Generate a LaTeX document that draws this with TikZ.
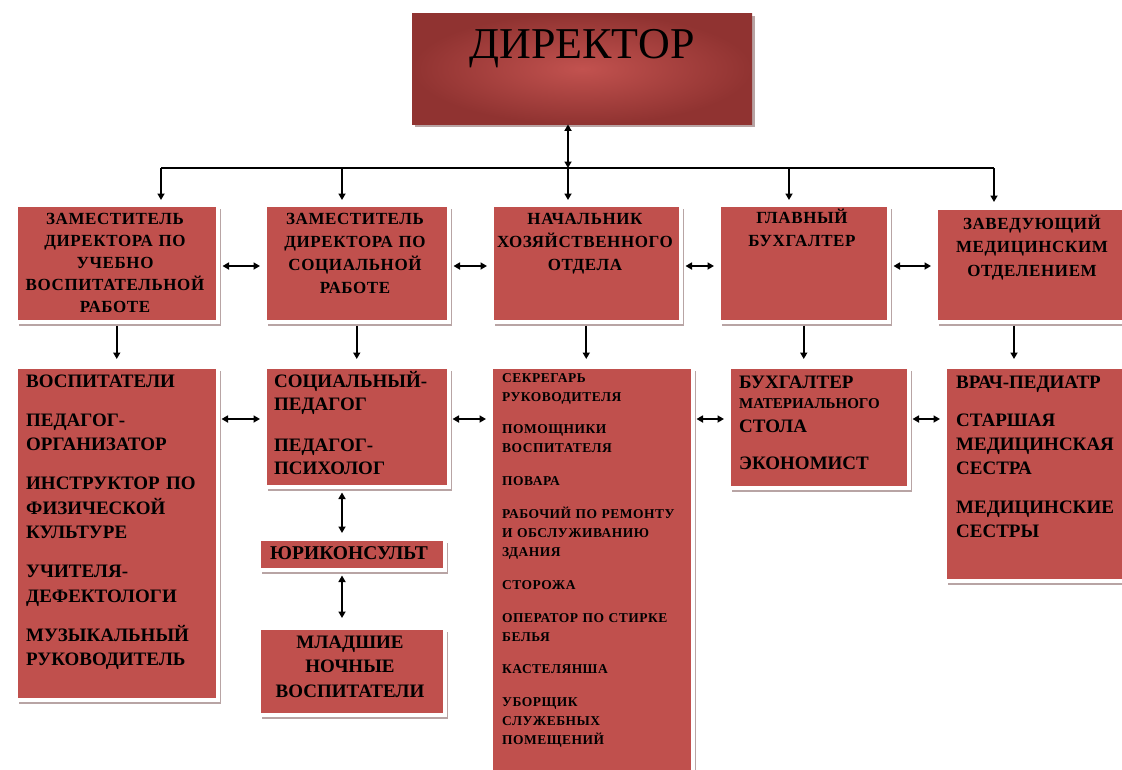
\documentclass[tikz,border=0pt]{standalone}
\usepackage{fontspec}
\setmainfont{Liberation Serif}
\newfontfamily\ttlfont{Liberation Serif}[LetterSpace=3.5]
\newfontfamily\smfont{Liberation Serif}[LetterSpace=3.5]
\usetikzlibrary{arrows.meta,shadows}
\definecolor{boxred}{HTML}{C0504D}
\definecolor{dirdark}{HTML}{903331}
\definecolor{dirlight}{HTML}{C2524F}
\definecolor{shadowc}{HTML}{B8A4A4}
\begin{document}
\begin{tikzpicture}[x=1pt,y=-1pt,
  box/.style={fill=boxred, draw=white, line width=3.5pt, inner sep=0pt, anchor=north west,
     drop shadow={shadow xshift=3pt, shadow yshift=-4pt, fill=shadowc, opacity=1}},
  conn/.style={line width=2pt, draw=black},
  arr/.style={conn, -{Triangle[length=6.5pt,width=7pt]}},
  darr/.style={conn, {Triangle[length=6.5pt,width=7pt]}-{Triangle[length=6.5pt,width=7pt]}},
  ttl/.style={text width=200pt, align=center, anchor=base, inner sep=0pt},
  big/.style={font=\bfseries\fontsize{19}{24.5}\selectfont, text width=185pt, align=left, anchor=base west, inner sep=0pt},
  small/.style={font=\smfont\bfseries\fontsize{13.5}{19}\selectfont, text width=189pt, align=left, anchor=base west, inner sep=0pt},
]
\useasboundingbox (0,0) rectangle (1122,769);

% director
\node[shading=radial, inner color=dirlight, outer color=dirdark, minimum width=340pt, minimum height=111pt,
      anchor=north west, inner sep=0pt,
      drop shadow={shadow xshift=3pt, shadow yshift=-3pt, fill=shadowc, opacity=1}] (dir) at (412,13) {};
\node[font=\fontsize{44}{44}\selectfont, anchor=base, inner sep=0pt] (dirt) at (582,58) {ДИРЕКТОР};

% top row boxes
\node[box, minimum width=202pt, minimum height=117pt] (b1) at (14,203) {};
\node[box, minimum width=184pt, minimum height=117pt] (b2) at (263,203) {};
\node[box, minimum width=189pt, minimum height=117pt] (b3) at (490,203) {};
\node[box, minimum width=170pt, minimum height=117pt] (b4) at (717,203) {};
\node[box, minimum width=196pt, minimum height=114pt] (b5) at (934,206) {};

\node[ttl, font=\ttlfont\bfseries\fontsize{17}{22}\selectfont] (t1) at (115,224) {ЗАМЕСТИТЕЛЬ\\ДИРЕКТОРА ПО\\УЧЕБНО\\ВОСПИТАТЕЛЬНОЙ\\РАБОТЕ};
\node[ttl, font=\ttlfont\bfseries\fontsize{17}{23}\selectfont] (t2) at (355,224) {ЗАМЕСТИТЕЛЬ\\ДИРЕКТОРА ПО\\СОЦИАЛЬНОЙ\\РАБОТЕ};
\node[ttl, font=\ttlfont\bfseries\fontsize{17}{23}\selectfont] (t3) at (585,224) {НАЧАЛЬНИК\\ХОЗЯЙСТВЕННОГО\\ОТДЕЛА};
\node[ttl, font=\ttlfont\bfseries\fontsize{17}{23}\selectfont] (t4) at (802,223) {ГЛАВНЫЙ\\БУХГАЛТЕР};
\node[ttl, font=\ttlfont\bfseries\fontsize{17}{23.5}\selectfont] (t5) at (1032,229) {ЗАВЕДУЮЩИЙ\\МЕДИЦИНСКИМ\\ОТДЕЛЕНИЕМ};

% bottom boxes
\node[box, minimum width=202pt, minimum height=333pt] (c1) at (14,365) {};
\node[box, minimum width=184pt, minimum height=120pt] (c2) at (263,365) {};
\node[box, minimum width=186pt, minimum height=31pt] (jur) at (257,537) {};
\node[box, minimum width=186pt, minimum height=87pt] (ml) at (257,626) {};
\node[box, minimum width=202pt, minimum height=415pt] (c3) at (489,365) {};
\node[box, minimum width=180pt, minimum height=121pt] (c4) at (727,365) {};
\node[box, minimum width=190pt, minimum height=214pt] (c5) at (943,365) {};

\node[big] (s1) at (26,387) {ВОСПИТАТЕЛИ\\[14.5pt]ПЕДАГОГ-\\ОРГАНИЗАТОР\\[14.5pt]ИНСТРУКТОР ПО\\ФИЗИЧЕСКОЙ\\КУЛЬТУРЕ\\[14.5pt]УЧИТЕЛЯ-\\ДЕФЕКТОЛОГИ\\[14.5pt]МУЗЫКАЛЬНЫЙ\\РУКОВОДИТЕЛЬ};
\node[big, font=\bfseries\fontsize{19}{23}\selectfont] (s2) at (274,387) {СОЦИАЛЬНЫЙ-\\ПЕДАГОГ\\[18pt]ПЕДАГОГ-\\ПСИХОЛОГ};
\node[font=\bfseries\fontsize{19.5}{22}\selectfont, anchor=base, inner sep=0pt] (sj) at (349,559) {ЮРИКОНСУЛЬТ};
\node[ttl, font=\bfseries\fontsize{19}{24.5}\selectfont] (sm) at (350,648) {МЛАДШИЕ\\НОЧНЫЕ\\ВОСПИТАТЕЛИ};
\node[small] (s3) at (502,382) {СЕКРЕГАРЬ\\РУКОВОДИТЕЛЯ\\[13.8pt]ПОМОЩНИКИ\\ВОСПИТАТЕЛЯ\\[13.8pt]ПОВАРА\\[13.8pt]РАБОЧИЙ ПО РЕМОНТУ\\И ОБСЛУЖИВАНИЮ\\ЗДАНИЯ\\[13.8pt]СТОРОЖА\\[13.8pt]ОПЕРАТОР ПО СТИРКЕ\\БЕЛЬЯ\\[13.8pt]КАСТЕЛЯНША\\[13.8pt]УБОРЩИК\\СЛУЖЕБНЫХ\\ПОМЕЩЕНИЙ};
\node[big, font=\bfseries\fontsize{19}{22}\selectfont] (s4) at (739,388) {БУХГАЛТЕР\\[-2pt]{\fontsize{15}{22}\selectfont МАТЕРИАЛЬНОГО}\\[2pt]СТОЛА\\[15pt]ЭКОНОМИСТ};
\node[big, font=\bfseries\fontsize{19}{24}\selectfont] (s5) at (956,388) {ВРАЧ-ПЕДИАТР\\[14.5pt]СТАРШАЯ\\МЕДИЦИНСКАЯ\\СЕСТРА\\[15pt]МЕДИЦИНСКИЕ\\СЕСТРЫ};

% connectors
\coordinate (hub) at (568,168);
\coordinate (d1) at (161,168);
\coordinate (d2) at (342,168);
\coordinate (d4) at (789,168);
\coordinate (d5) at (994,168);
\coordinate (row1) at (0,266);
\coordinate (row2) at (0,419);
\coordinate (vx) at (342,0);
\coordinate (v5) at (1014,0);

\draw[darr] (hub |- dir.south) -- (hub);
\draw[conn] (d1) -- (d5);
\draw[arr, shorten >=3pt] (d1) -- (d1 |- b1.north);
\draw[arr, shorten >=3pt] (d2) -- (d2 |- b2.north);
\draw[arr, shorten >=3pt] (hub) -- (hub |- b3.north);
\draw[arr, shorten >=3pt] (d4) -- (d4 |- b4.north);
\draw[arr, shorten >=4pt] (d5) -- (d5 |- b5.north);

\draw[darr, shorten <=3pt, shorten >=3pt] (b1.east |- row1) -- (b2.west |- row1);
\draw[darr, shorten <=3pt, shorten >=3pt] (b2.east |- row1) -- (b3.west |- row1);
\draw[darr, shorten <=3pt, shorten >=3pt] (b3.east |- row1) -- (b4.west |- row1);
\draw[darr, shorten <=3pt, shorten >=3pt] (b4.east |- row1) -- (b5.west |- row1);

\draw[arr, shorten <=2pt, shorten >=6pt] (b1.south) -- (b1.south |- c1.north);
\draw[arr, shorten <=2pt, shorten >=6pt] (b2.south) -- (b2.south |- c2.north);
\draw[arr, shorten <=2pt, shorten >=6pt] (b3.south) -- (b3.south |- c3.north);
\draw[arr, shorten <=2pt, shorten >=6pt] (b4.south) -- (b4.south |- c4.north);
\draw[arr, shorten <=2pt, shorten >=6pt] (v5 |- b5.south) -- (v5 |- c5.north);

\draw[darr, shorten <=2pt, shorten >=3pt] (c1.east |- row2) -- (c2.west |- row2);
\draw[darr, shorten <=2pt, shorten >=3pt] (c2.east |- row2) -- (c3.west |- row2);
\draw[darr, shorten <=2pt, shorten >=3pt] (c3.east |- row2) -- (c4.west |- row2);
\draw[darr, shorten <=2pt, shorten >=3pt] (c4.east |- row2) -- (c5.west |- row2);

\draw[darr, shorten <=4pt, shorten >=4pt] (vx |- c2.south) -- (vx |- jur.north);
\draw[darr, shorten <=4pt, shorten >=8pt] (vx |- jur.south) -- (vx |- ml.north);
\end{tikzpicture}
\end{document}
